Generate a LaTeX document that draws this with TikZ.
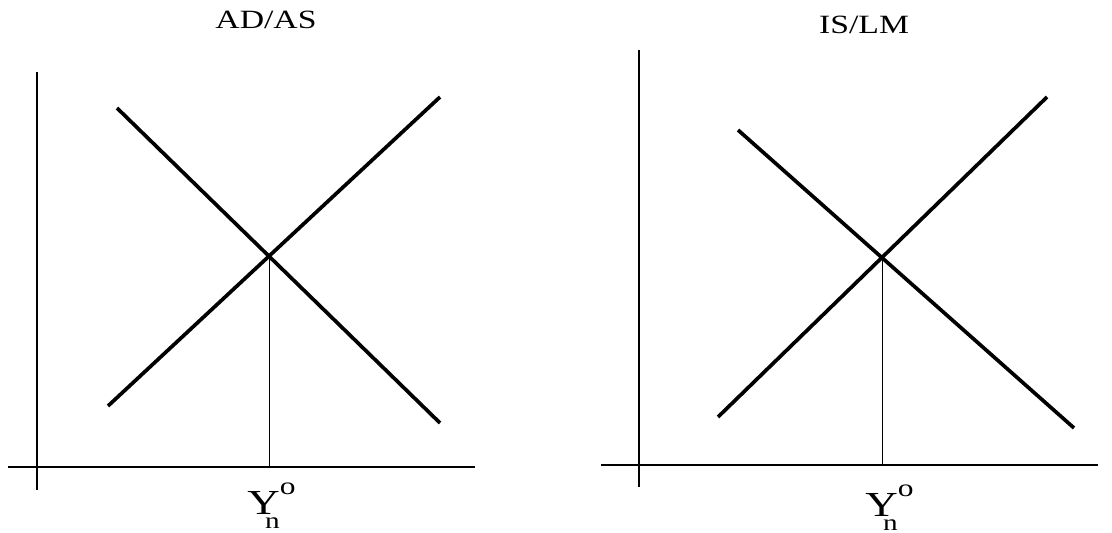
\documentclass[tikz,border=0pt]{standalone}
\usepackage{fontspec}
\setmainfont{Liberation Serif}
\newcommand{\wide}[1]{\scalebox{1.28}[1]{#1}}
\newcommand{\ynlabel}{\wide{Y\llap{\raisebox{-0.42em}{\fontsize{13}{13}\selectfont n}}\raisebox{0.56em}{\fontsize{14}{14}\selectfont o}}}
\begin{document}
\begin{tikzpicture}[
  x=0.02cm, y=-0.02cm,
  axis/.style={line width=1.3pt},
  curve/.style={line width=2.1pt},
  drop/.style={line width=0.4pt},
  title/.style={font=\fontsize{15}{17}\selectfont, anchor=base},
  ylab/.style={font=\fontsize{20}{22}\selectfont, anchor=base west, inner sep=0pt}
]
\useasboundingbox (0,0) rectangle (1112,533);

% left panel: AD/AS
\node[title] (t1) at (266,29) {\wide{AD/AS}};
\coordinate (o1) at (37,467);
\coordinate (v1) at (37,72);
\coordinate (v1b) at (37,490);
\coordinate (h1a) at (8,467);
\coordinate (h1b) at (475,467);
\draw[axis] (v1) -- (v1b);
\draw[axis] (h1a) -- (h1b);
\coordinate (as1) at (108,406);
\coordinate (as2) at (440,97);
\coordinate (ad1) at (117,108);
\coordinate (ad2) at (440,423);
\draw[curve] (as1) -- (as2);
\draw[curve] (ad1) -- (ad2);
\coordinate (e1) at (intersection of as1--as2 and ad1--ad2);
\coordinate (f1) at (e1 |- o1);
\draw[drop] (e1) -- (f1);
\node[ylab] (y1) at (247,514) {\ynlabel};

% right panel: IS/LM
\node[title] (t2) at (864,34) {\wide{IS/LM}};
\coordinate (o2) at (639,465);
\coordinate (v2) at (639,50);
\coordinate (v2b) at (639,487);
\coordinate (h2a) at (601,465);
\coordinate (h2b) at (1098,465);
\draw[axis] (v2) -- (v2b);
\draw[axis] (h2a) -- (h2b);
\coordinate (lm1) at (718,417);
\coordinate (lm2) at (1047,97);
\coordinate (is1) at (738,130);
\coordinate (is2) at (1074,428);
\draw[curve] (lm1) -- (lm2);
\draw[curve] (is1) -- (is2);
\coordinate (e2) at (intersection of lm1--lm2 and is1--is2);
\coordinate (f2) at (e2 |- o2);
\draw[drop] (e2) -- (f2);
\node[ylab] (y2) at (865,516) {\ynlabel};
\end{tikzpicture}
\end{document}
